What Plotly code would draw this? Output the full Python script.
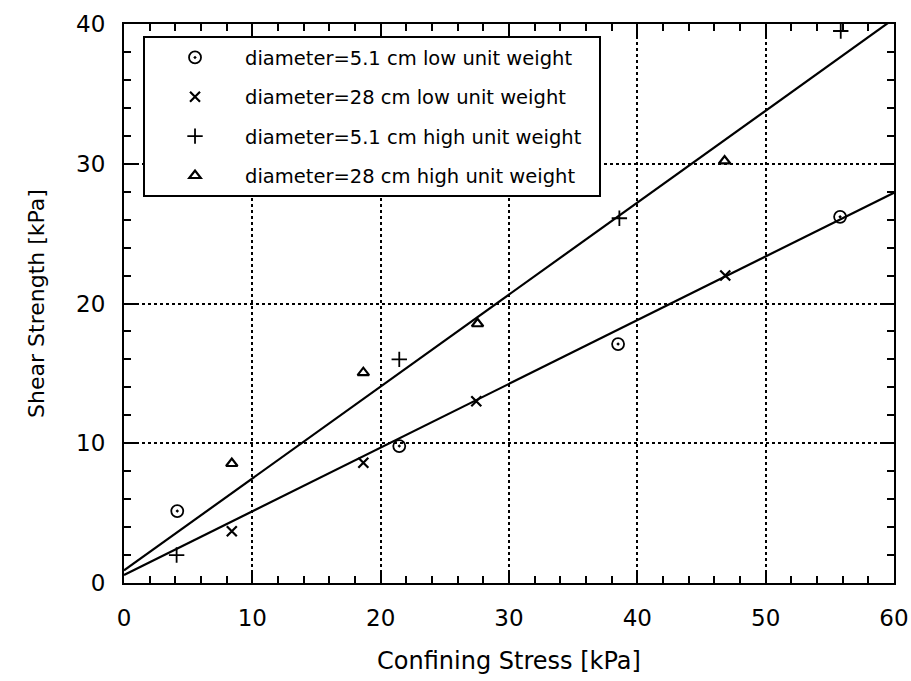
import plotly.graph_objects as go

# ---- data ----
circ_x = [4.15, 21.45, 38.5, 55.8]      # diameter=5.1 cm low unit weight
circ_y = [5.15, 9.8, 17.1, 26.2]
xm_x = [8.4, 18.65, 27.45, 46.85]       # diameter=28 cm low unit weight
xm_y = [3.7, 8.6, 13.0, 22.0]
plus_x = [4.1, 21.45, 38.6, 55.85]      # diameter=5.1 cm high unit weight
plus_y = [2.0, 16.0, 26.1, 39.5]
tri_x = [8.4, 18.65, 27.55, 46.8]       # diameter=28 cm high unit weight
tri_y = [8.55, 15.05, 18.55, 30.2]

fit_x = [0, 60]
high_fit = (0.9, 0.658)   # intercept, slope
low_fit = (0.57, 0.456)

names = ["diameter=5.1 cm low unit weight",
         "diameter=28 cm low unit weight",
         "diameter=5.1 cm high unit weight",
         "diameter=28 cm high unit weight"]

FONT = "DejaVu Sans"
PAD = "\u00a0\u00a0"   # right-hand padding inside the legend box
fig = go.Figure()

for a, b in (high_fit, low_fit):
    fig.add_trace(go.Scatter(x=fit_x, y=[a + b * v for v in fit_x], mode="lines",
                             line=dict(color="black", width=2.2), showlegend=False,
                             hoverinfo="skip"))

series = [
    (circ_x, circ_y, "circle-open-dot", 12, 1.8),
    (xm_x, xm_y, "x-thin-open", 10, 2.2),
    (plus_x, plus_y, "cross-thin-open", 11, 1.8),
    (tri_x, tri_y, "triangle-up-open", 10, 2.2),
]
for i, (xs, ys, sym, sz, lw) in enumerate(series):
    fig.add_trace(go.Scatter(x=xs, y=ys, mode="markers", name=names[i] + PAD,
                             legendgroup=f"g{i}",
                             marker=dict(symbol=sym, size=sz, color="black",
                                         line=dict(color="black", width=lw))))

axis_common = dict(
    showline=True, linecolor="black", linewidth=2, mirror="allticks",
    ticks="inside", ticklen=13, tickwidth=1.5, tickcolor="black",
    showgrid=True, gridcolor="black", griddash="dot", gridwidth=1.5,
    zeroline=False, automargin=False,
    tickfont=dict(family=FONT, size=23, color="black"),
    minor=dict(ticks="inside", ticklen=7, tickwidth=1.5, tickcolor="black",
               dtick=2, showgrid=False),
)

fig.update_xaxes(range=[0, 60], dtick=10, tick0=0,
                 title=dict(text="Confining Stress [kPa]", standoff=23,
                            font=dict(family=FONT, size=24, color="black")),
                 ticklabelstandoff=13, **axis_common)
fig.update_yaxes(range=[0, 40], dtick=10, tick0=0,
                 title=dict(text="Shear Strength [kPa]", standoff=25,
                            font=dict(family=FONT, size=22, color="black")),
                 ticklabelstandoff=12, **axis_common)

fig.update_layout(
    width=911, height=681,
    margin=dict(l=124, r=17, t=24, b=98),
    paper_bgcolor="white", plot_bgcolor="white",
    font=dict(family=FONT, color="black"),
    legend=dict(x=0.0247, y=0.978, xanchor="left", yanchor="top",
                bgcolor="white", bordercolor="black", borderwidth=2,
                font=dict(family=FONT, size=19.5, color="black"),
                traceorder="grouped", tracegroupgap=11, itemwidth=90),
)

fig.write_html("out.html")
